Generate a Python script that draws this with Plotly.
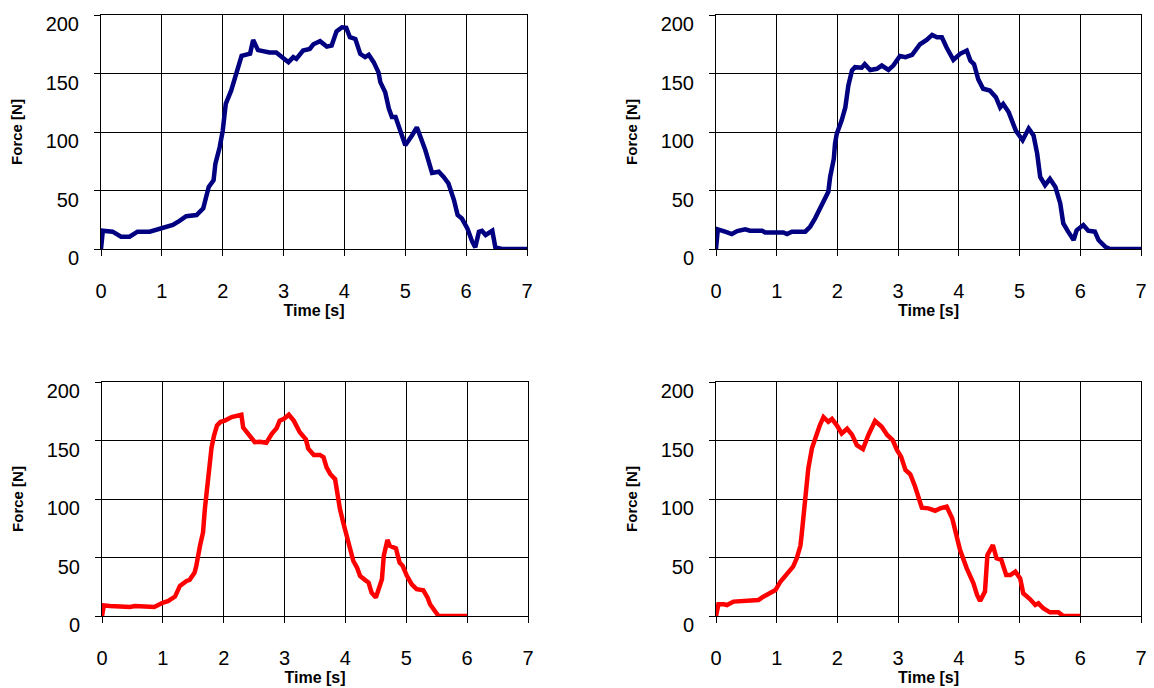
import plotly.graph_objects as go

# ---- data ----
t_tl = [0, 0.03, 0.19, 0.33, 0.47, 0.60, 0.80, 0.99, 1.18, 1.29, 1.40, 1.57, 1.68, 1.77, 1.85, 1.88,
        1.95, 2.00, 2.05, 2.14, 2.23, 2.31, 2.45, 2.50, 2.58, 2.69, 2.77, 2.88, 2.97, 3.08, 3.16,
        3.21, 3.32, 3.43, 3.49, 3.60, 3.71, 3.79, 3.87, 3.96, 4.03, 4.09, 4.18, 4.26, 4.34, 4.40,
        4.48, 4.56, 4.59, 4.67, 4.73, 4.78, 4.84, 4.95, 5.00, 5.11, 5.19, 5.25, 5.33, 5.44, 5.55,
        5.63, 5.71, 5.80, 5.86, 5.93, 6.02, 6.10, 6.15, 6.21, 6.26, 6.32, 6.43, 6.48, 6.59, 7.00]
f_tl = [0, 15.6, 14.8, 10.5, 10.5, 14.8, 14.8, 17.6, 20.5, 24, 28, 29, 34.7, 53, 58.8, 73,
        87, 101, 124, 135.5, 152.6, 165, 167, 178.7, 170, 169, 168, 168, 164, 159.7, 164,
        162.5, 169.6, 171, 175, 177.6, 173, 173.9, 186, 189.5, 189, 181, 179.5, 166.8, 164, 166,
        159.7, 151, 142.6, 134, 120, 112.8, 112.8, 94, 88.6, 97, 104, 95.7, 84.4, 65, 66,
        61.6, 56, 41.8, 29, 26, 17.6, 6.25, 1.4, 14.8, 15.6, 12, 15.6, 1.4, 0, 0]

t_tr = [0, 0.03, 0.15, 0.26, 0.35, 0.48, 0.56, 0.76, 0.81, 1.11, 1.17, 1.25, 1.47, 1.55, 1.63, 1.69,
        1.77, 1.85, 1.88, 1.94, 1.96, 1.99, 2.07, 2.13, 2.18, 2.24, 2.29, 2.40, 2.45, 2.54, 2.65,
        2.73, 2.84, 2.92, 3.03, 3.12, 3.23, 3.36, 3.47, 3.56, 3.64, 3.72, 3.80, 3.91, 4.02, 4.13,
        4.19, 4.25, 4.32, 4.40, 4.51, 4.61, 4.68, 4.73, 4.82, 4.87, 4.94, 5.05, 5.15, 5.23, 5.29,
        5.34, 5.42, 5.50, 5.59, 5.67, 5.72, 5.80, 5.89, 5.94, 6.05, 6.13, 6.24, 6.30, 6.41, 6.49, 7.00]
f_tr = [0, 16.8, 14.8, 12.8, 15.3, 16.8, 15.6, 15.6, 14.2, 14.2, 12.8, 14.8, 14.8, 19, 26, 31.8,
        39.5, 48.9, 61.6, 77, 90, 98.6, 110, 121, 139.8, 152.6, 155.4, 155, 158, 153, 154,
        156.8, 153, 156.8, 165, 164, 166, 175, 178.7, 183, 181, 181, 172, 161.6, 166.8, 169.6,
        161, 158, 145, 137, 135.5, 129.8, 121, 124, 117, 110, 101, 93, 103, 97, 81.5,
        61.6, 54.5, 60, 53, 39, 21.9, 14.8, 7.7, 16, 20.5, 15.6, 14.8, 7.7, 2, 0, 0]

t_bl = [0, 0.03, 0.13, 0.32, 0.46, 0.54, 0.67, 0.86, 0.98, 1.09, 1.20, 1.28, 1.39, 1.44, 1.52, 1.55,
        1.61, 1.66, 1.69, 1.73, 1.76, 1.80, 1.84, 1.89, 1.95, 2.02, 2.13, 2.21, 2.29, 2.32, 2.43,
        2.51, 2.59, 2.70, 2.79, 2.87, 2.92, 2.99, 3.07, 3.15, 3.25, 3.35, 3.39, 3.48, 3.58, 3.64,
        3.69, 3.75, 3.83, 3.86, 3.91, 3.97, 4.02, 4.10, 4.13, 4.19, 4.24, 4.32, 4.38, 4.43, 4.50,
        4.60, 4.63, 4.69, 4.73, 4.83, 4.89, 4.94, 5.01, 5.09, 5.17, 5.28, 5.35, 5.39, 5.45, 5.53, 6.00]
f_bl = [0, 9.1, 8.6, 7.7, 7.7, 8.6, 8, 7.7, 10.9, 12.9, 16.6, 25.7, 30, 30.9, 37, 42.9,
        60, 71.4, 91.4, 111, 132.9, 144, 154, 162.9, 166, 167, 170, 171, 172, 161, 154,
        148.6, 149, 148, 155.7, 160.6, 167, 168.6, 172, 167, 157, 151, 143, 137.7, 137.7, 135.7,
        127, 121.4, 117, 105.7, 91.4, 78.6, 68.6, 54, 47, 41.4, 34.3, 30.9, 28.6, 20, 15.7,
        31.4, 51.4, 65, 60, 57.7, 45.7, 42.9, 34.3, 27, 22.9, 22, 15.7, 10, 5.7, 0, 0]

t_br = [0, 0.04, 0.13, 0.18, 0.29, 0.51, 0.70, 0.78, 0.87, 0.98, 1.06, 1.17, 1.27, 1.33, 1.39, 1.41,
        1.45, 1.49, 1.52, 1.58, 1.63, 1.71, 1.77, 1.85, 1.91, 1.99, 2.07, 2.16, 2.24, 2.32, 2.42,
        2.51, 2.62, 2.73, 2.82, 2.91, 2.98, 3.05, 3.12, 3.20, 3.28, 3.39, 3.50, 3.61, 3.69, 3.80,
        3.89, 3.97, 4.02, 4.13, 4.24, 4.30, 4.35, 4.43, 4.47, 4.56, 4.62, 4.70, 4.78, 4.85, 4.93,
        5.01, 5.06, 5.17, 5.26, 5.31, 5.39, 5.50, 5.64, 5.72, 6.00]
f_br = [0, 10, 10, 9.4, 12.3, 13.1, 13.7, 16.5, 19.4, 22.2, 29.3, 35.9, 42.2, 49.3, 60, 69,
        92, 113.4, 126, 143.3, 151.9, 163, 170, 166, 168.4, 163, 156, 160, 155, 146, 142.7,
        154.7, 166.7, 161.8, 154.7, 150.4, 141.9, 136, 124.8, 121, 110.5, 92.6, 92, 90, 92, 93.4,
        83.5, 66.4, 56.4, 40.7, 28, 18, 12.8, 20.8, 52, 60.7, 49.3, 47.9, 35, 35, 37.9,
        32.2, 19.4, 14.5, 9.4, 10.8, 6.6, 3.1, 3.1, 0, 0]

x_ticks = [0, 1, 2, 3, 4, 5, 6, 7]
y_ticks = [0, 50, 100, 150, 200]
x_title = "Time [s]"
y_title = "Force [N]"

NAVY = "#000080"
RED = "#FF0000"

panels = [
    (t_tl, f_tl, NAVY, [101 / 1154, 527 / 1154], [439 / 688, 673 / 688]),
    (t_tr, f_tr, NAVY, [716 / 1154, 1141 / 1154], [439 / 688, 673 / 688]),
    (t_bl, f_bl, RED, [102 / 1154, 528 / 1154], [72 / 688, 306 / 688]),
    (t_br, f_br, RED, [716 / 1154, 1141 / 1154], [72 / 688, 306 / 688]),
]

fig = go.Figure()
FONT = "Liberation Sans, Arial, sans-serif"

for i, (t, f, col, xd, yd) in enumerate(panels, start=1):
    xa = "x" if i == 1 else f"x{i}"
    ya = "y" if i == 1 else f"y{i}"
    fig.add_trace(go.Scatter(x=t, y=f, mode="lines", line=dict(color=col, width=4.5),
                             xaxis=xa, yaxis=ya, showlegend=False, hoverinfo="skip"))
    axis_common = dict(showline=True, linecolor="black", linewidth=1, mirror=True,
                       showgrid=True, gridcolor="black", gridwidth=1, zeroline=False,
                       ticks="outside", ticklen=6, tickcolor="black", tickwidth=1,
                       automargin=False,
                       tickfont=dict(family=FONT, size=20, color="black"))
    xkey = "xaxis" if i == 1 else f"xaxis{i}"
    ykey = "yaxis" if i == 1 else f"yaxis{i}"
    fig.update_layout(**{
        xkey: dict(axis_common, domain=xd, range=[0, 7], tickvals=x_ticks,
                   ticktext=[str(v) for v in x_ticks], anchor=ya,
                   ticklabelstandoff=18,
                   title=dict(text=f"<b>{x_title}</b>", standoff=0,
                              font=dict(family=FONT, size=16, color="black"))),
        ykey: dict(axis_common, domain=yd, range=[0, 200], tickvals=y_ticks,
                   ticktext=[str(v) for v in y_ticks], anchor=xa,
                   ticklabelshift=9, ticklabelstandoff=11,
                   title=dict(text=f"<b>{y_title}</b>", standoff=19,
                              font=dict(family=FONT, size=15, color="black"))),
    })

fig.update_layout(width=1154, height=688, margin=dict(l=0, r=0, t=0, b=0),
                  paper_bgcolor="white", plot_bgcolor="white", font=dict(family=FONT))

fig.write_html("out.html", config={"displayModeBar": False},
               post_script="document.body.style.margin='0';document.body.style.overflow='hidden';")
